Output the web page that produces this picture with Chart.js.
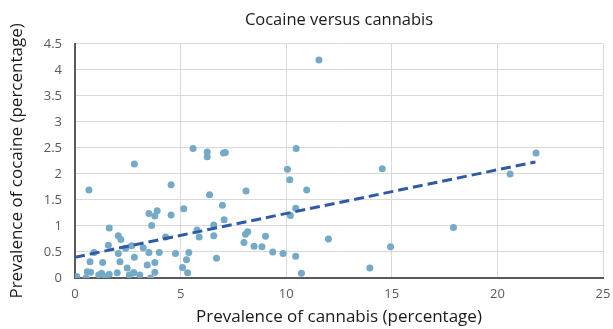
<!DOCTYPE html>
<html>
<head>
<meta charset="utf-8">
<script src="https://cdn.jsdelivr.net/npm/chart.js@4/dist/chart.umd.min.js"></script>
<style>
    html, body { margin: 0; padding: 0; background: #fff; }
    #wrap { width: 613px; height: 329px; }
</style>
</head>
<body>
<div id="wrap"><canvas id="chart"></canvas></div>
<script>
// Prevalence of cannabis (x) and cocaine (y), in percent
const cannabis = [
    0.08, 0.52, 0.58, 0.74, 1.12, 1.26, 1.43, 1.62, 2.00, 2.47,
    2.57, 2.76, 3.07, 3.58, 3.78, 3.42, 3.78, 0.71, 1.31, 2.13,
    2.81, 3.50, 3.99, 2.05, 0.90, 1.58, 2.68, 3.23, 2.40, 2.05,
    2.17, 1.62, 3.63, 3.50, 3.78, 3.89, 4.29, 4.55, 5.15, 6.98,
    7.06, 6.57, 5.78, 5.88, 6.57, 8.07, 8.18, 8.00, 8.48, 8.85,
    9.02, 4.76, 5.39, 5.28, 5.09, 5.33, 6.70, 2.81, 0.66, 4.55,
    5.59, 6.26, 6.26, 7.03, 7.12, 6.37, 8.10, 10.47, 10.06, 10.17,
    10.97, 14.55, 10.45, 10.20, 12.00, 14.94, 9.36, 9.85, 10.45, 10.72,
    13.96, 11.55, 17.92, 20.60, 21.83, 2.79
];
const cocaine = [
    0.03, 0.00, 0.12, 0.11, 0.06, 0.09, 0.03, 0.07, 0.10, 0.19,
    0.06, 0.10, 0.06, 0.00, 0.11, 0.25, 0.30, 0.31, 0.30, 0.31,
    0.40, 0.49, 0.49, 0.47, 0.49, 0.63, 0.62, 0.58, 0.57, 0.81,
    0.74, 0.96, 1.01, 1.24, 1.19, 1.29, 0.79, 1.21, 1.33, 1.40,
    1.12, 1.02, 0.92, 0.79, 0.81, 0.84, 0.89, 0.68, 0.61, 0.60,
    0.80, 0.47, 0.49, 0.35, 0.20, 0.10, 0.38, 2.19, 1.69, 1.79,
    2.49, 2.42, 2.33, 2.40, 2.41, 1.60, 1.67, 2.49, 2.09, 1.89,
    1.69, 2.10, 1.34, 1.20, 0.75, 0.60, 0.50, 0.47, 0.42, 0.09,
    0.19, 4.19, 0.97, 2.00, 2.40, 0.10
];

// linear trend line end points
const trendX = [0, 21.8];
const trendY = [0.40, 2.23];

const FONT = '"Open Sans", "Noto Sans", sans-serif';
const TICK_COLOR = '#595959';

const points = cannabis.map((x, i) => ({ x: x, y: cocaine[i] }));
const trend = trendX.map((x, i) => ({ x: x, y: trendY[i] }));

new Chart(document.getElementById('chart'), {
    type: 'scatter',
    data: {
        datasets: [
            {
                type: 'line',
                label: 'Trend',
                data: trend,
                borderColor: '#2f5aa8',
                borderWidth: 3,
                borderDash: [10, 5],
                pointRadius: 0,
                fill: false,
                order: 0
            },
            {
                label: 'Countries',
                data: points,
                backgroundColor: '#74aac8',
                borderWidth: 0,
                pointRadius: 3.5,
                order: 1
            }
        ]
    },
    options: {
        responsive: true,
        maintainAspectRatio: false,
        animation: false,
        layout: { padding: { left: 0, right: 10, top: 0, bottom: 0 } },
        plugins: {
            legend: { display: false },
            tooltip: { enabled: false },
            title: {
                display: true,
                text: 'Cocaine versus cannabis',
                fullSize: false,
                color: '#1a1a1a',
                font: { family: FONT, size: 16.5, weight: 'normal' },
                padding: { top: 10, bottom: 14 }
            }
        },
        scales: {
            x: {
                type: 'linear',
                min: 0,
                max: 25,
                ticks: {
                    stepSize: 5,
                    color: TICK_COLOR,
                    padding: 8,
                    font: { family: FONT, size: 13 }
                },
                grid: { color: '#d9d9d9', drawTicks: false },
                border: { color: '#595959', width: 2 },
                title: {
                    display: true,
                    text: 'Prevalence of cannabis (percentage)',
                    color: '#1a1a1a',
                    font: { family: FONT, size: 17 },
                    padding: { top: 0, bottom: 2 }
                },
                afterFit: (scale) => {
                    scale.height = 51;
                    scale.paddingRight = 0;
                    scale.paddingLeft = 0;
                }
            },
            y: {
                min: 0,
                max: 4.5,
                ticks: {
                    stepSize: 0.5,
                    color: TICK_COLOR,
                    padding: 13,
                    font: { family: FONT, size: 13 },
                    callback: (v) => String(v)
                },
                grid: { color: '#d9d9d9', drawTicks: false },
                border: { color: '#595959', width: 2 },
                title: {
                    display: true,
                    text: 'Prevalence of cocaine (percentage)',
                    color: '#1a1a1a',
                    font: { family: FONT, size: 17 },
                    padding: { top: 7, bottom: 0 }
                },
                afterFit: (scale) => { scale.width = 75; }
            }
        }
    }
});
</script>
</body>
</html>
